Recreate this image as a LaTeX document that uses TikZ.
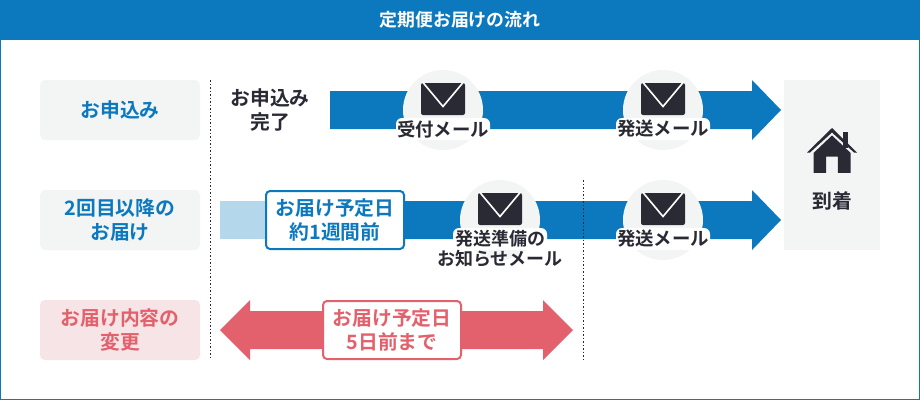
\documentclass[tikz,border=0pt]{standalone}
\usepackage{fontspec}
\setmainfont{Noto Sans CJK JP}[BoldFont={Noto Sans CJK JP Bold}]
\definecolor{flowblue}{HTML}{0C79BF}
\definecolor{paleblue}{HTML}{B4D7EC}
\definecolor{panelgray}{HTML}{F3F5F5}
\definecolor{inkdark}{HTML}{2A2A35}
\definecolor{alertred}{HTML}{E2616C}
\definecolor{palepink}{HTML}{F6E4E6}
\tikzset{
  x=1pt, y=-1pt,
  label/.style={font=\bfseries\fontsize{19.8}{24}\selectfont, align=center, inner sep=0pt},
  rowlabel/.style={label, fill=panelgray, rounded corners=5pt, minimum width=160pt, minimum height=60pt},
  datebox/.style={label, fill=white, draw=#1, text=#1, line width=2pt, rounded corners=4pt, minimum height=58pt},
  mailcircle/.style={circle, fill=panelgray, minimum size=80pt, inner sep=0pt},
  mailtext/.style={font=\bfseries\fontsize{18.4}{20}\selectfont, align=center, inner sep=0pt, text=inkdark},
  mailplate/.style={white, rounded corners=6pt},
  timeline/.style={dash pattern=on 1.5pt off 2pt, line width=1pt, inkdark},
}
% envelope icon centred on a circle's centre
\newcommand{\envelope}[1]{%
  \fill[inkdark, rounded corners=2pt] ([shift={(-22,-27)}]#1) rectangle ([shift={(22,5)}]#1);
  \draw[white, line width=1.6pt] ([shift={(-20.5,-28)}]#1) -- ([shift={(0,-3.5)}]#1) -- ([shift={(20.5,-28)}]#1);
}
\begin{document}
\begin{tikzpicture}
\useasboundingbox (0,0) rectangle (920,400);
\fill[white] (0,0) rectangle (920,400);
\draw[flowblue, line width=1pt] (0.5,0.5) rectangle (919.5,399.5);
\fill[flowblue] (0,0) rectangle (920,40);
\node[font=\bfseries\fontsize{17.9}{20}\selectfont, text=white, inner sep=0pt] (title) at (460,20) {定期便お届けの流れ};

% row headers
\node[rowlabel, text=flowblue] (rowa) at (120,110) {お申込み};
\node[rowlabel, text=flowblue] (rowb) at (120,220) {2回目以降の\\お届け};
\node[rowlabel, fill=palepink, text=alertred] (rowc) at (120,330) {お届け内容の\\変更};

% dotted time marks
\coordinate (marka) at (210.5,80);
\coordinate (markb) at (210.5,360);
\coordinate (markc) at (583.5,180);
\coordinate (markd) at (583.5,360);
\draw[timeline] (marka) -- (markb);
\draw[timeline] (markc) -- (markd);

% arrival panel
\fill[panelgray] (784,80) rectangle (880,250);
\fill[inkdark] (842.7,131.7) rectangle (847.7,148);
\fill[inkdark] (807,152.5) -- (832,128) -- (857,152.5) -- (854,152.5) -- (832,132.5) -- (810,152.5) -- cycle;
\fill[inkdark] (813.5,153) -- (832,135.5) -- (850.7,153) -- (850.7,172.8) -- (837.8,172.8) -- (837.8,156.5) -- (826,156.5) -- (826,172.8) -- (813.5,172.8) -- cycle;
\node[label, text=inkdark] (arrive) at (832,201) {到着};

% first row arrow
\fill[flowblue] (330,91) -- (752,91) -- (752,80) -- (781,110) -- (752,140) -- (752,129) -- (330,129) -- cycle;
\node[label, text=inkdark] (done) at (270,110) {お申込み\\完了};

% second row arrow
\fill[paleblue] (220,201) rectangle (270,239);
\fill[flowblue] (400,201) -- (752,201) -- (752,190) -- (781,220) -- (752,250) -- (752,239) -- (400,239) -- cycle;
\node[datebox=flowblue, minimum width=138pt] (dateb) at (335,220) {お届け予定日\\約1週間前};

% third row double arrow
\fill[alertred] (220,330) -- (250,300) -- (250,311) -- (543,311) -- (543,300) -- (573,330) -- (543,360) -- (543,349) -- (250,349) -- (250,360) -- cycle;
\node[datebox=alertred, minimum width=138pt] (datec) at (392,330) {お届け予定日\\5日前まで};

% mail stops
\node[mailcircle] (ma) at (443,110) {};
\node[mailcircle] (mb) at (663,110) {};
\node[mailcircle] (mc) at (500,220) {};
\node[mailcircle] (md) at (663,220) {};
\draw[timeline] (583.5,201) -- (583.5,239);
\envelope{ma.center}
\envelope{mb.center}
\envelope{mc.center}
\envelope{md.center}

% white plates keep the mail captions clear of the arrows
\fill[mailplate] (396,118) rectangle (490,140);
\fill[mailplate] (616,118) rectangle (710,140);
\fill[mailplate] (616,228) rectangle (710,250);
\fill[mailplate] (453,228) rectangle (547,250);
\node[mailtext] (capa) at (443,129) {受付メール};
\node[mailtext] (capb) at (663,129) {発送メール};
\node[mailtext, font=\bfseries\fontsize{18}{20}\selectfont] (capc) at (500,249) {発送準備の\\お知らせメール};
\node[mailtext] (capd) at (663,239) {発送メール};
\end{tikzpicture}
\end{document}
